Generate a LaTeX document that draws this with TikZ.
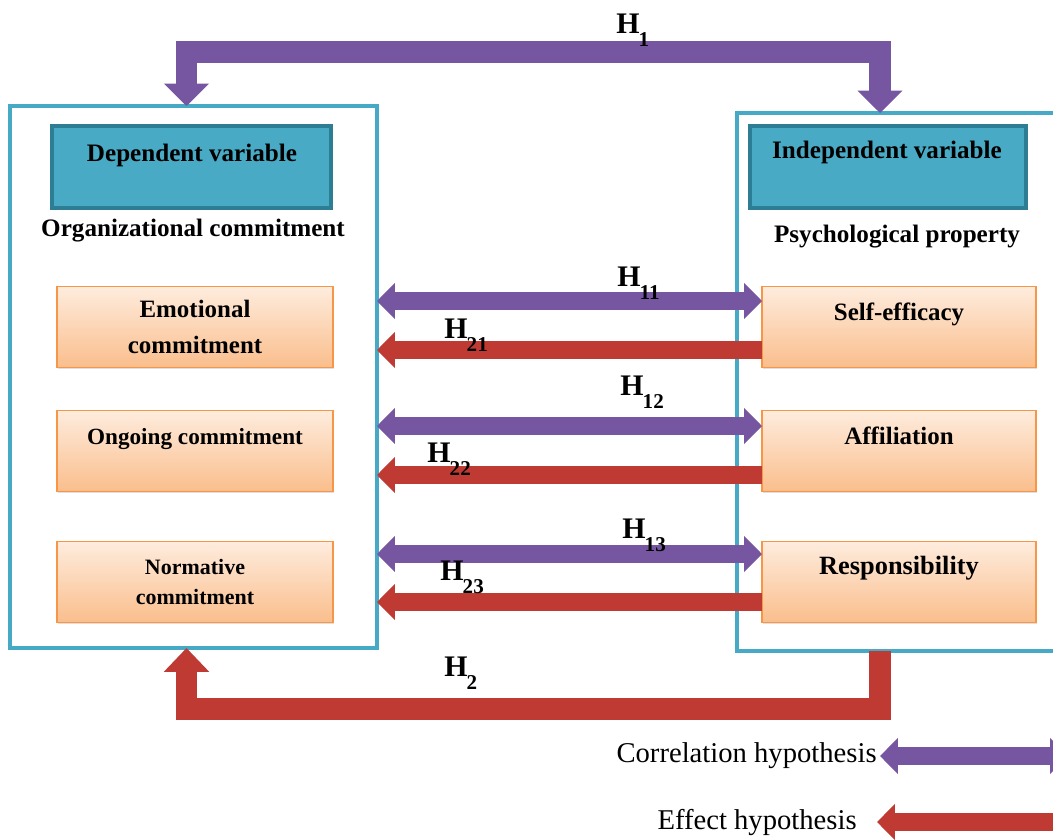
\documentclass[tikz,border=0pt]{standalone}
\usepackage{fontspec}
\setmainfont{Liberation Serif}
\usetikzlibrary{arrows.meta,calc,shadows}
\definecolor{framecol}{RGB}{70,170,198}
\definecolor{tealfill}{RGB}{72,170,196}
\definecolor{tealdraw}{RGB}{45,125,148}
\definecolor{orangetop}{RGB}{254,236,222}
\definecolor{orangebot}{RGB}{250,190,140}
\definecolor{orangedraw}{RGB}{247,150,70}
\definecolor{corrcol}{RGB}{118,86,160}
\definecolor{effcol}{RGB}{192,58,52}
\newcommand{\Hsub}[1]{H\kern-0.5pt\raisebox{-0.45em}{\fontsize{12}{12}\selectfont #1}}
\tikzset{
  bigframe/.style={draw=framecol, line width=2pt, inner sep=0pt, outer sep=0pt},
  tealbox/.style={draw=tealdraw, line width=1.8pt, fill=tealfill, inner sep=0pt, outer sep=0pt,
    minimum height=1.64cm, drop shadow={opacity=0.25, shadow xshift=0.8pt, shadow yshift=-0.8pt}},
  orbox/.style={draw=orangedraw, line width=0.8pt, top color=orangetop, bottom color=orangebot,
    inner sep=0pt, outer sep=0pt, minimum height=1.62cm, align=center,
    font=\bfseries\fontsize{14.2}{20}\selectfont,
    drop shadow={opacity=0.25, shadow xshift=0.8pt, shadow yshift=-0.8pt}},
  headtext/.style={font=\bfseries\fontsize{14.3}{17}\selectfont, inner sep=0pt},
  hlabel/.style={font=\bfseries\fontsize{17}{17}\selectfont, inner sep=0pt, anchor=base west},
  legtext/.style={font=\fontsize{16.3}{18}\selectfont, inner sep=0pt},
  corr/.style={draw=corrcol, line width=9.8pt,
    {Triangle[width=20pt,length=10.2pt]}-{Triangle[width=20pt,length=10.2pt]}},
  eff/.style={draw=effcol, line width=9.8pt, -{Triangle[width=20pt,length=10.2pt]}},
  bigcorr/.style={draw=corrcol, line width=12.5pt, line join=miter,
    {Triangle[width=25pt,length=12.8pt]}-{Triangle[width=25pt,length=12.8pt]}},
  bigeff/.style={draw=effcol, line width=12.5pt, line join=miter,
    -{Triangle[width=25pt,length=13.6pt]}},
}
\begin{document}
\begin{tikzpicture}[x=0.02cm,y=-0.02cm]
\useasboundingbox (0,0) rectangle (1053,839);
\clip (0,0) rectangle (1053,839);
% frames
\node[bigframe, minimum width=7.34cm, minimum height=10.84cm] (lbox) at (193.5,377) {};
\node[bigframe, minimum width=6.66cm, minimum height=10.76cm] (rbox) at (903.5,382) {};
% teal header boxes
\node[tealbox, minimum width=5.58cm] (dep) at (191.5,167) {};
\node[headtext] (deptxt) at (192,155) {Dependent variable};
\node[tealbox, minimum width=5.52cm] (ind) at (888,167) {};
\node[headtext] (indtxt) at (887,152) {Independent variable};
\node[headtext] (orgc) at (193,231) {Organizational commitment};
\node[headtext] (psyp) at (897,237) {Psychological property};
% left boxes
\node[orbox, minimum width=5.52cm] (emo) at (195,327) {Emotional\\commitment};
\node[orbox, minimum width=5.52cm, font=\bfseries\fontsize{13.2}{17}\selectfont] (ong) at (195,451) {Ongoing commitment\\\mbox{}};
\node[orbox, minimum width=5.52cm, font=\bfseries\fontsize{12.5}{17.5}\selectfont] (nor) at (195,582) {Normative\\commitment};
% right boxes
\node[orbox, minimum width=5.48cm, font=\bfseries\fontsize{14.2}{17}\selectfont] (sel) at (899,327) {Self-efficacy\\\mbox{}};
\node[orbox, minimum width=5.48cm, font=\bfseries\fontsize{14.2}{17}\selectfont] (aff) at (899,451) {Affiliation\\\mbox{}};
\node[orbox, minimum width=5.48cm, font=\bfseries\fontsize{15}{19}\selectfont] (res) at (899,582) {Responsibility\\\mbox{}};
% horizontal arrows
\draw[corr] (lbox.east |- 0,301) -- (sel.west |- 0,301);
\draw[eff] (sel.west |- 0,350) -- (lbox.east |- 0,350);
\draw[corr] (lbox.east |- 0,426) -- (aff.west |- 0,426);
\draw[eff] (aff.west |- 0,475) -- (lbox.east |- 0,475);
\draw[corr] (lbox.east |- 0,554) -- (res.west |- 0,554);
\draw[eff] (res.west |- 0,602) -- (lbox.east |- 0,602);
% H1 and H2 brackets
\draw[bigcorr] ($(lbox.north)+(-7,0)$) -- ++(0,-54) -| ($(rbox.north)+(-23.5,0)$);
\draw[bigeff] ($(rbox.south)+(-23.5,0)$) -- ++(0,58) -| ($(lbox.south)+(-7,0)$);
% labels
\node[hlabel] (h1) at (616,33) {\Hsub{1}};
\node[hlabel] (h11) at (617,286) {\Hsub{11}};
\node[hlabel] (h21) at (444,338) {\Hsub{21}};
\node[hlabel] (h12) at (620,395) {\Hsub{12}};
\node[hlabel] (h22) at (427,462) {\Hsub{22}};
\node[hlabel] (h13) at (622,538) {\Hsub{13}};
\node[hlabel] (h23) at (440,580) {\Hsub{23}};
\node[hlabel] (h2) at (444,676) {\Hsub{2}};
% legend
\node[legtext, anchor=east] (lcorr) at (877,756) {Correlation hypothesis};
\coordinate (lcorrend) at (1068,756);
\draw[corr] ($(lcorr.east)+(3,0)$) -- (lcorrend);
\node[legtext, anchor=east] (leff) at (857,822) {Effect hypothesis};
\coordinate (leffstart) at (1075,822);
\draw[eff] (leffstart) -- ($(leff.east)+(20,0)$);
\end{tikzpicture}
\end{document}
